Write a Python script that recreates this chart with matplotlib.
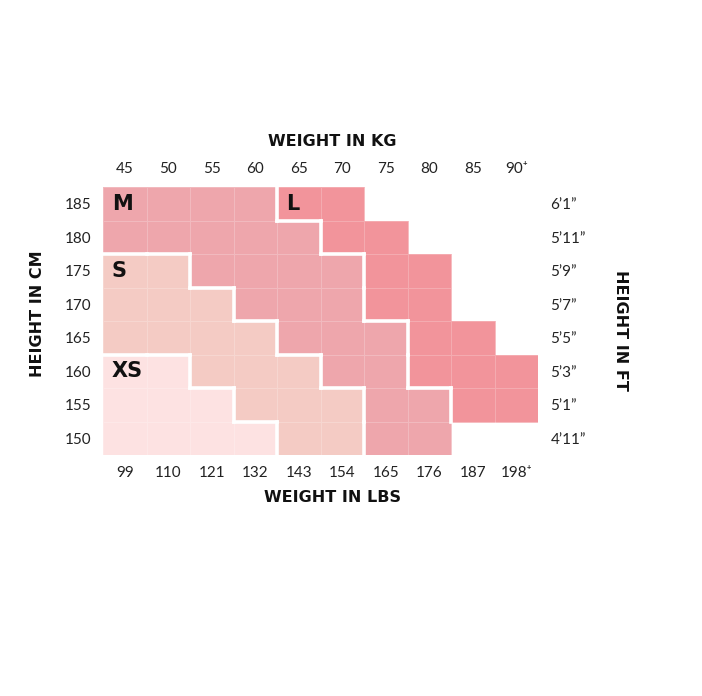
import numpy as np
import matplotlib
matplotlib.use("Agg")
import matplotlib.pyplot as plt
from matplotlib.colors import ListedColormap

plt.rcParams['font.family'] = ['Lato', 'DejaVu Sans']

# --- data ---
kg_labels = ["45", "50", "55", "60", "65", "70", "75", "80", "85", "90\u207a"]
lbs_labels = ["99", "110", "121", "132", "143", "154", "165", "176", "187", "198\u207a"]
cm_labels = ["185", "180", "175", "170", "165", "160", "155", "150"]
ft_labels = ["6\u20191\u201d", "5\u201911\u201d", "5\u20199\u201d", "5\u20197\u201d",
             "5\u20195\u201d", "5\u20193\u201d", "5\u20191\u201d", "4\u201911\u201d"]
sizes = ["XS", "S", "M", "L"]
size_colors = ["#fde2e2", "#f4cbc4", "#eea6ac", "#f2949b"]

# size index per cell (rows 185 -> 150, cols 45 -> 90+), -1 = no size
# 0=XS 1=S 2=M 3=L
grid = [
    [2, 2, 2, 2, 3, 3, -1, -1, -1, -1],
    [2, 2, 2, 2, 2, 3, 3, -1, -1, -1],
    [1, 1, 2, 2, 2, 2, 3, 3, -1, -1],
    [1, 1, 1, 2, 2, 2, 3, 3, -1, -1],
    [1, 1, 1, 1, 2, 2, 2, 3, 3, -1],
    [0, 0, 1, 1, 1, 2, 2, 3, 3, 3],
    [0, 0, 0, 1, 1, 1, 2, 2, 3, 3],
    [0, 0, 0, 0, 1, 1, 2, 2, -1, -1],
]
# where each size label sits (row, col)
label_cells = {"M": (0, 0), "L": (0, 4), "S": (2, 0), "XS": (5, 0)}

W, H = 702, 696
fig = plt.figure(figsize=(W / 100, H / 100), dpi=100)

# axes placed in pixel terms
x0, x1, y0, y1 = 103, 538, 187, 455
ax = fig.add_axes([x0 / W, 1 - y1 / H, (x1 - x0) / W, (y1 - y0) / H])

arr = np.ma.masked_less(np.array(grid), 0)
nrows, ncols = arr.shape
ax.pcolormesh(np.arange(ncols + 1), np.arange(nrows + 1), arr,
              cmap=ListedColormap(size_colors), vmin=-0.5, vmax=3.5,
              edgecolors=(1, 1, 1, 0.22), linewidth=0.6)
ax.set_xlim(0, ncols)
ax.set_ylim(nrows, 0)

# white borders between size regions
g = np.array(grid)
for r in range(nrows):
    for c in range(ncols):
        if g[r, c] < 0:
            continue
        if c + 1 < ncols and g[r, c + 1] >= 0 and g[r, c + 1] != g[r, c]:
            ax.plot([c + 1, c + 1], [r, r + 1], color="white", lw=2.6,
                    solid_capstyle="projecting")
        if r + 1 < nrows and g[r + 1, c] >= 0 and g[r + 1, c] != g[r, c]:
            ax.plot([c, c + 1], [r + 1, r + 1], color="white", lw=2.6,
                    solid_capstyle="projecting")

for name, (r, c) in label_cells.items():
    ax.text(c + 0.2, r + 0.5, name, fontsize=15, fontweight="bold",
            family="DejaVu Sans", color="#111111", ha="left", va="center")

for s in ax.spines.values():
    s.set_visible(False)

centers_x = np.arange(ncols) + 0.5
centers_y = np.arange(nrows) + 0.5
tick_font = dict(fontsize=11, color="#222222")

ax.xaxis.tick_top()
ax.set_xticks(centers_x, kg_labels, **tick_font)
ax.set_yticks(centers_y, cm_labels, **tick_font)
ax.tick_params(length=0, pad=8)

secx = ax.secondary_xaxis("bottom")
secx.set_xticks(centers_x, lbs_labels, **tick_font)
secx.tick_params(length=0, pad=8)
secx.spines["bottom"].set_visible(False)

secy = ax.secondary_yaxis("right")
secy.set_yticks(centers_y, ft_labels, **tick_font)
secy.tick_params(length=0, pad=9)
secy.spines["right"].set_visible(False)

title_font = dict(fontsize=11.5, fontweight="bold", color="#111111",
                  family="DejaVu Sans")
fig.text(332 / W, 1 - 141 / H, "WEIGHT IN KG", ha="center", va="center", **title_font)
fig.text(332 / W, 1 - 498 / H, "WEIGHT IN LBS", ha="center", va="center", **title_font)
fig.text(38 / W, 1 - 314 / H, "HEIGHT IN CM", ha="center", va="center",
         rotation=90, **title_font)
fig.text(620 / W, 1 - 330 / H, "HEIGHT IN FT", ha="center", va="center",
         rotation=270, **title_font)

fig.savefig("out.png", dpi=100)
